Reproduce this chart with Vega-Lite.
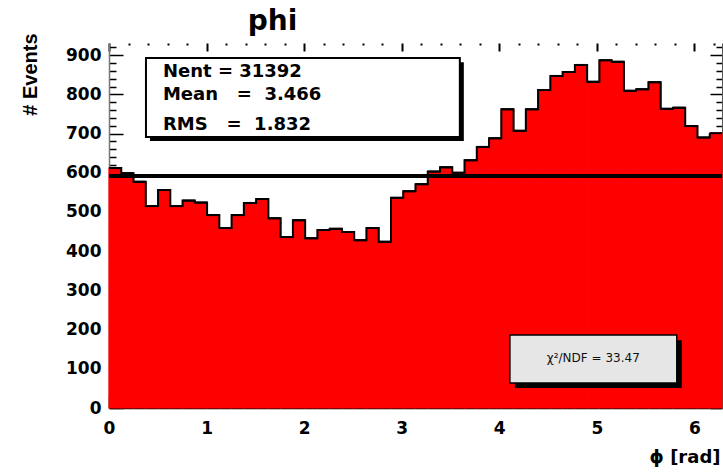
{
  "$schema": "https://vega.github.io/schema/vega-lite/v6.json",
  "width": 613,
  "height": 365,
  "autosize": "none",
  "padding": {"left": 109, "top": 43, "right": 1, "bottom": 66},
  "background": "white",
  "title": {"text": "phi", "font": "DejaVu Sans", "fontSize": 28, "fontWeight": "bold", "anchor": "middle", "frame": "group", "dx": -143, "dy": 40, "offset": 15, "baseline": "alphabetic", "color": "black"},
  "config": {
    "view": {"stroke": null},
    "axis": {"grid": false, "zindex": 1, "labelFont": "DejaVu Sans", "labelFontWeight": "bold", "labelFontSize": 17, "labelColor": "black", "domainColor": "black", "tickColor": "black", "labelFlush": false, "labelOverlap": false}
  },
  "data": {"values": [
    {"lo": 0, "hi": 0.1257, "n": 612},
    {"lo": 0.1257, "hi": 0.2513, "n": 599},
    {"lo": 0.2513, "hi": 0.377, "n": 577},
    {"lo": 0.377, "hi": 0.5027, "n": 515},
    {"lo": 0.5027, "hi": 0.6283, "n": 556},
    {"lo": 0.6283, "hi": 0.754, "n": 515},
    {"lo": 0.754, "hi": 0.8796, "n": 529},
    {"lo": 0.8796, "hi": 1.0053, "n": 524},
    {"lo": 1.0053, "hi": 1.131, "n": 492},
    {"lo": 1.131, "hi": 1.2566, "n": 459},
    {"lo": 1.2566, "hi": 1.3823, "n": 492},
    {"lo": 1.3823, "hi": 1.508, "n": 523},
    {"lo": 1.508, "hi": 1.6336, "n": 533},
    {"lo": 1.6336, "hi": 1.7593, "n": 484},
    {"lo": 1.7593, "hi": 1.885, "n": 436},
    {"lo": 1.885, "hi": 2.0106, "n": 479},
    {"lo": 2.0106, "hi": 2.1363, "n": 433},
    {"lo": 2.1363, "hi": 2.2619, "n": 454},
    {"lo": 2.2619, "hi": 2.3876, "n": 457},
    {"lo": 2.3876, "hi": 2.5133, "n": 449},
    {"lo": 2.5133, "hi": 2.6389, "n": 428},
    {"lo": 2.6389, "hi": 2.7646, "n": 459},
    {"lo": 2.7646, "hi": 2.8903, "n": 424},
    {"lo": 2.8903, "hi": 3.0159, "n": 536},
    {"lo": 3.0159, "hi": 3.1416, "n": 553},
    {"lo": 3.1416, "hi": 3.2673, "n": 571},
    {"lo": 3.2673, "hi": 3.3929, "n": 603},
    {"lo": 3.3929, "hi": 3.5186, "n": 614},
    {"lo": 3.5186, "hi": 3.6442, "n": 600},
    {"lo": 3.6442, "hi": 3.7699, "n": 632},
    {"lo": 3.7699, "hi": 3.8956, "n": 666},
    {"lo": 3.8956, "hi": 4.0212, "n": 688},
    {"lo": 4.0212, "hi": 4.1469, "n": 762},
    {"lo": 4.1469, "hi": 4.2726, "n": 707},
    {"lo": 4.2726, "hi": 4.3982, "n": 762},
    {"lo": 4.3982, "hi": 4.5239, "n": 811},
    {"lo": 4.5239, "hi": 4.6496, "n": 847},
    {"lo": 4.6496, "hi": 4.7752, "n": 857},
    {"lo": 4.7752, "hi": 4.9009, "n": 875},
    {"lo": 4.9009, "hi": 5.0265, "n": 832},
    {"lo": 5.0265, "hi": 5.1522, "n": 887},
    {"lo": 5.1522, "hi": 5.2779, "n": 883},
    {"lo": 5.2779, "hi": 5.4035, "n": 809},
    {"lo": 5.4035, "hi": 5.5292, "n": 813},
    {"lo": 5.5292, "hi": 5.6549, "n": 831},
    {"lo": 5.6549, "hi": 5.7805, "n": 763},
    {"lo": 5.7805, "hi": 5.9062, "n": 766},
    {"lo": 5.9062, "hi": 6.0319, "n": 719},
    {"lo": 6.0319, "hi": 6.1575, "n": 690},
    {"lo": 6.1575, "hi": 6.2832, "n": 701}
  ]},
  "resolve": {"axis": {"x": "independent", "y": "independent"}},
  "layer": [
    {
      "mark": {"type": "rect", "color": "#ff0000", "stroke": "#ff0000", "strokeWidth": 1.2},
      "encoding": {
        "x": {"field": "lo", "type": "quantitative", "scale": {"domain": [0, 6.2832], "nice": false, "zero": false},
          "axis": {"orient": "bottom", "values": [0,0.2,0.4,0.6,0.8,1,1.2,1.4,1.6,1.8,2,2.2,2.4,2.6,2.8,3,3.2,3.4,3.6,3.8,4,4.2,4.4,4.6,4.8,5,5.2,5.4,5.6,5.8,6,6.2],
            "labelExpr": "datum.value % 1 === 0 ? format(datum.value, 'd') : ''",
            "tickSize": {"expr": "datum.value % 1 === 0 ? -12 : -6"}, "labelPadding": 24,
            "domainWidth": 1.5, "tickWidth": 1.5,
            "title": "ϕ [rad]", "titleFont": "DejaVu Sans", "titleFontSize": 18, "titleFontWeight": "bold", "titleColor": "black",
            "titleX": 611, "titleY": 49, "titleAlign": "right", "titleBaseline": "middle"}},
        "x2": {"field": "hi"},
        "y": {"field": "n", "type": "quantitative", "scale": {"domain": [0, 931], "nice": false},
          "axis": {"orient": "left", "values": [0,20,40,60,80,100,120,140,160,180,200,220,240,260,280,300,320,340,360,380,400,420,440,460,480,500,520,540,560,580,600,620,640,660,680,700,720,740,760,780,800,820,840,860,880,900,920],
            "labelExpr": "datum.value % 100 === 0 ? format(datum.value, 'd') : ''",
            "tickSize": {"expr": "datum.value % 100 === 0 ? -14 : -7"}, "labelPadding": 22,
            "domainColor": "#777", "domainWidth": 1.5, "tickWidth": 1.5,
            "title": "# Events", "titleFont": "Liberation Sans", "titleFontSize": 20, "titleFontWeight": "bold", "titleColor": "black",
            "titleAngle": -90, "titleX": -79, "titleY": -10, "titleAlign": "right", "titleBaseline": "middle"}},
        "y2": {"datum": 0}
      }
    },
    {
      "mark": {"type": "rule", "color": "black", "strokeWidth": 2},
      "encoding": {
        "x": {"field": "lo", "type": "quantitative", "scale": {"domain": [0, 6.2832], "nice": false, "zero": false},
          "axis": {"orient": "top", "values": [0,0.2,0.4,0.6,0.8,1,1.2,1.4,1.6,1.8,2,2.2,2.4,2.6,2.8,3,3.2,3.4,3.6,3.8,4,4.2,4.4,4.6,4.8,5,5.2,5.4,5.6,5.8,6,6.2],
            "labels": false, "domain": false, "tickSize": {"expr": "datum.value % 1 === 0 ? -8 : -2"}, "tickWidth": 2, "title": null}},
        "x2": {"field": "hi"},
        "y": {"field": "n", "type": "quantitative", "scale": {"domain": [0, 931], "nice": false},
          "axis": {"orient": "right", "values": [0,20,40,60,80,100,120,140,160,180,200,220,240,260,280,300,320,340,360,380,400,420,440,460,480,500,520,540,560,580,600,620,640,660,680,700,720,740,760,780,800,820,840,860,880,900,920],
            "labels": false, "domainColor": "#555", "tickSize": {"expr": "datum.value % 100 === 0 ? -12 : -6"}, "tickWidth": 1.5, "title": null}}
      }
    },
    {
      "mark": {"type": "line", "color": "black", "strokeWidth": 2, "interpolate": "step-after"},
      "encoding": {
        "x": {"field": "lo", "type": "quantitative", "axis": null},
        "y": {"field": "n", "type": "quantitative", "axis": null}
      }
    },
    {
      "data": {"values": [{}]},
      "mark": {"type": "rule", "color": "black", "strokeWidth": 4},
      "encoding": {"y": {"datum": 592, "type": "quantitative", "axis": null}}
    },
    {
      "data": {"values": [{}]},
      "mark": {"type": "rect", "color": "black"},
      "encoding": {
        "x": {"datum": 0.42, "type": "quantitative", "axis": null}, "x2": {"datum": 3.637},
        "y": {"datum": 882, "type": "quantitative", "axis": null}, "y2": {"datum": 681}
      }
    },
    {
      "data": {"values": [{}]},
      "mark": {"type": "rect", "fill": "white", "stroke": "black", "strokeWidth": 2},
      "encoding": {
        "x": {"datum": 0.379, "type": "quantitative", "axis": null}, "x2": {"datum": 3.596},
        "y": {"datum": 892.7, "type": "quantitative", "axis": null}, "y2": {"datum": 691}
      }
    },
    {
      "data": {"values": [{}]},
      "mark": {"type": "text", "font": "DejaVu Sans", "fontWeight": "bold", "fontSize": 18, "align": "left", "baseline": "middle", "color": "black"},
      "encoding": {
        "x": {"datum": 0.553, "type": "quantitative", "axis": null},
        "y": {"datum": 857, "type": "quantitative", "axis": null},
        "text": {"value": "Nent = 31392"}
      }
    },
    {
      "data": {"values": [{}]},
      "mark": {"type": "text", "font": "DejaVu Sans", "fontWeight": "bold", "fontSize": 18, "align": "left", "baseline": "middle", "color": "black"},
      "encoding": {
        "x": {"datum": 0.553, "type": "quantitative", "axis": null},
        "y": {"datum": 798, "type": "quantitative", "axis": null},
        "text": {"value": "Mean\u00a0\u00a0\u00a0=\u00a0\u00a03.466"}
      }
    },
    {
      "data": {"values": [{}]},
      "mark": {"type": "text", "font": "DejaVu Sans", "fontWeight": "bold", "fontSize": 18, "align": "left", "baseline": "middle", "color": "black"},
      "encoding": {
        "x": {"datum": 0.553, "type": "quantitative", "axis": null},
        "y": {"datum": 722, "type": "quantitative", "axis": null},
        "text": {"value": "RMS\u00a0\u00a0\u00a0=\u00a0\u00a01.832"}
      }
    },
    {
      "data": {"values": [{}]},
      "mark": {"type": "rect", "color": "black"},
      "encoding": {
        "x": {"datum": 4.16, "type": "quantitative", "axis": null}, "x2": {"datum": 5.871},
        "y": {"datum": 173, "type": "quantitative", "axis": null}, "y2": {"datum": 51}
      }
    },
    {
      "data": {"values": [{}]},
      "mark": {"type": "rect", "fill": "#e6e6e6", "stroke": "black", "strokeWidth": 1.5},
      "encoding": {
        "x": {"datum": 4.109, "type": "quantitative", "axis": null}, "x2": {"datum": 5.82},
        "y": {"datum": 186, "type": "quantitative", "axis": null}, "y2": {"datum": 64}
      }
    },
    {
      "data": {"values": [{}]},
      "mark": {"type": "text", "font": "DejaVu Sans", "fontSize": 12, "align": "center", "baseline": "middle", "color": "#111"},
      "encoding": {
        "x": {"datum": 4.964, "type": "quantitative", "axis": null},
        "y": {"datum": 127, "type": "quantitative", "axis": null},
        "text": {"value": "χ²/NDF = 33.47"}
      }
    }
  ]
}
